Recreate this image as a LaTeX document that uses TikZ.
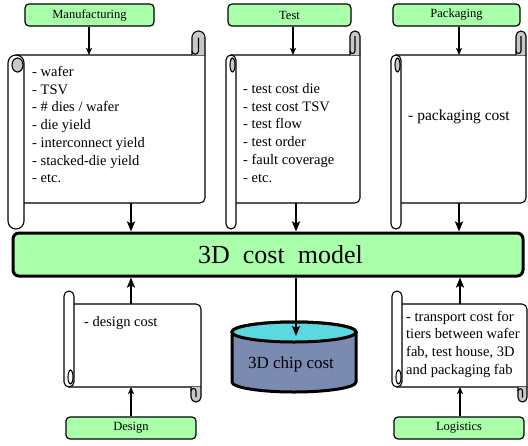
\documentclass[tikz,border=0pt]{standalone}
\usepackage{fontspec}
\setmainfont{Liberation Serif}
\usetikzlibrary{arrows.meta}

\definecolor{boxgreen}{RGB}{170,255,170}
\definecolor{curlgray}{RGB}{200,200,200}
\definecolor{chipcyan}{RGB}{92,216,224}
\definecolor{chipblue}{RGB}{122,138,176}

% #1 tube left, #2 tube width, #3 top, #4 right, #5 bottom, #6 tube end, #7 curl width, #8 curl height, #9 tube curl fill
\newcommand{\paperscroll}[9]{
  \filldraw[scrollline, fill=white] ({#1+#2/2},#3) -- (#4,#3) -- (#4,{#5-5}) arc[start angle=0, end angle=90, radius=5] -- ({#1+#2/2},#5) -- cycle;
  \filldraw[scrollline, fill=white, rounded corners={(#2/2)*1pt}] (#1,#3) rectangle ({#1+#2},#6);
  \filldraw[scrollline, fill=#9] ({#1+#2/2+1.5},{#3+10}) ellipse[x radius={#2/2-2.5}, y radius=7];
  \filldraw[scrollline, fill=curlgray] ({#4-#7},#3) -- ({#4-#7},{#3-#8+#7/2}) arc[start angle=180, end angle=360, radius=#7/2] -- (#4,#3);
  \draw[scrollline] ({#4-#7/2},{#3-#8+#7/2}) -- ({#4-#7/2},{#3-4}) arc[start angle=0, end angle=180, radius=#7/4];
}

\begin{document}
\begin{tikzpicture}[x=1pt, y=-1pt,
    scrollline/.style={line width=1.1pt},
    stagebox/.style={draw, fill=boxgreen, rounded corners=4pt, line width=1.2pt, minimum height=22pt, inner sep=0pt, font=\fontsize{12.5}{15}\selectfont},
    modelbox/.style={draw, fill=boxgreen, rounded corners=6pt, line width=3pt, minimum width=510pt, minimum height=43pt, inner sep=0pt, font=\fontsize{26}{30}\selectfont},
    listtext/.style={inner sep=0pt, align=left, font=\fontsize{14.5}{17.7}\selectfont},
    feed/.style={line width=1.2pt, -{Stealth[length=7pt, width=6pt, inset=1.5pt]}},
    result/.style={line width=2.6pt, -{Stealth[length=10pt, width=8pt, inset=2pt]}}]
  \useasboundingbox (0,0) rectangle (528,445);

  % sources
  \node[stagebox, minimum width=129pt] (mfg) at (89.5,15) {Manufacturing};
  \node[stagebox, minimum width=123pt] (test) at (289.5,15) {Test};
  \node[stagebox, minimum width=127pt] (pkg) at (456.5,15) {Packaging};
  \node[stagebox, minimum width=130pt] (design) at (131,428) {Design};
  \node[stagebox, minimum width=130pt] (logist) at (459,428) {Logistics};

  % scrolls
  \paperscroll{8}{16}{55}{205}{203}{229}{13}{24}{curlgray}
  \paperscroll{226}{10}{55}{360}{203}{229}{10}{24}{curlgray}
  \paperscroll{391}{10}{55}{526}{203}{229}{10}{24}{curlgray}
  \begin{scope}[shift={(0,442)}, yscale=-1]
    \paperscroll{64}{10}{55}{201}{138}{151}{10}{15}{white}
    \paperscroll{392}{10}{55}{527}{138}{151}{9}{15}{white}
  \end{scope}

  \node[listtext, anchor=north west] (mfglist) at (32,64) {\strut- wafer\\- TSV\\- \# dies / wafer\\- die yield\\- interconnect yield\\- stacked-die yield\\- etc.};
  \node[listtext, anchor=north west] (testlist) at (243,81) {\strut- test cost die\\- test cost TSV\\- test flow\\- test order\\- fault coverage\\- etc.};
  \node[listtext, font=\fontsize{15.5}{18}\selectfont] (pkglist) at (459,117) {- packaging cost};
  \node[listtext, anchor=west] (designlist) at (84,323) {- design cost};
  \node[listtext, anchor=north west] (logistlist) at (406,308.5) {\strut- transport cost for\\tiers between wafer\\fab, test house, 3D\\and packaging fab};

  % model and result
  \node[modelbox] (model) at (268,254.5) {\hspace*{25pt}3D\ \ cost\ \ model};

  \filldraw[line width=3pt, fill=chipblue] (232,332) -- (232,382) arc[start angle=180, end angle=0, x radius=62, y radius=10] -- (356,332) arc[start angle=0, end angle=-180, x radius=62, y radius=10] -- cycle;
  \filldraw[line width=3pt, fill=chipcyan] (294,332) ellipse[x radius=62, y radius=10];
  \node[font=\fontsize{17}{20}\selectfont] (chip) at (291,364) {3D chip cost};

  % connectors
  \coordinate (mfgin) at (89,55);
  \coordinate (mfgout) at (131,203);
  \coordinate (testin) at (293,55);
  \coordinate (testout) at (296,203);
  \coordinate (pkgin) at (459,55);
  \coordinate (pkgout) at (459,203);
  \coordinate (designin) at (131,387);
  \coordinate (designout) at (131,304);
  \coordinate (logistin) at (460,387);
  \coordinate (logistout) at (460,304);
  \coordinate (chipin) at (296,336);

  \draw[feed] (mfgin |- mfg.south) -- (mfgin);
  \draw[feed] (testin |- test.south) -- (testin);
  \draw[feed] (pkgin |- pkg.south) -- (pkgin);
  \draw[feed] (designin |- design.north) -- (designin);
  \draw[feed] (logistin |- logist.north) -- (logistin);

  \draw[result] (mfgout) -- (mfgout |- model.north);
  \draw[result] (testout) -- (testout |- model.north);
  \draw[result] (pkgout) -- (pkgout |- model.north);
  \draw[result] (designout) -- (designout |- model.south);
  \draw[result] (logistout) -- (logistout |- model.south);
  \draw[result] (chipin |- model.south) -- (chipin);
\end{tikzpicture}
\end{document}
